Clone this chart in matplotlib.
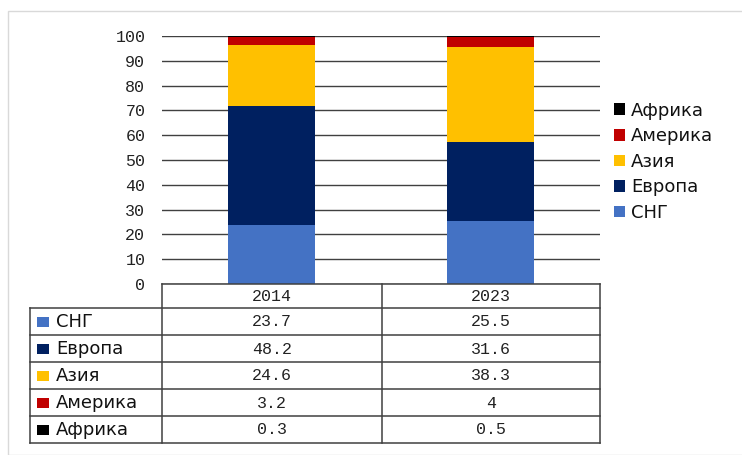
import matplotlib
matplotlib.use("Agg")
import matplotlib.pyplot as plt
from matplotlib.patches import Rectangle, Patch

# data
years = ["2014", "2023"]
regions = ["СНГ", "Европа", "Азия", "Америка", "Африка"]
sng = [23.7, 25.5]
europe = [48.2, 31.6]
asia = [24.6, 38.3]
america = [3.2, 4]
africa = [0.3, 0.5]
series = [sng, europe, asia, america, africa]
value_text = [["23.7", "25.5"], ["48.2", "31.6"], ["24.6", "38.3"],
              ["3.2", "4"], ["0.3", "0.5"]]
colors = ["#4472C4", "#002060", "#FFC000", "#C00000", "#000000"]
yticks = list(range(0, 101, 10))

W, H = 742, 455
fig = plt.figure(figsize=(W / 100, H / 100), dpi=100)

def fx(px):
    return px / W

def fy(py):
    return 1 - py / H

# light frame around the chart
fig.patches.append(Rectangle((fx(8), 0), 1, fy(11), transform=fig.transFigure,
                             fill=False, edgecolor="#d9d9d9", linewidth=1))

mono = "Liberation Mono"
sans = "DejaVu Sans"
gridc = "#404040"
numsize = 12
labsize = 13

# bar chart
ax = fig.add_axes([fx(162), fy(284), fx(600) - fx(162), fy(36) - fy(284)])
x = list(range(len(years)))
bottom = [0.0] * len(years)
for vals, col, name in zip(series, colors, regions):
    ax.bar(x, vals, 0.4, bottom=bottom, color=col, label=name, zorder=2)
    bottom = [b + v for b, v in zip(bottom, vals)]
ax.set_xlim(-0.5, 1.5)
ax.set_ylim(0, 100)
ax.set_yticks(yticks)
ax.set_yticklabels([str(t) for t in yticks], fontfamily=mono, fontsize=numsize, color="#222222")
ax.set_xticks([])
ax.tick_params(axis="y", length=0, pad=12)
for sp in ax.spines.values():
    sp.set_visible(False)
ax.grid(axis="y", color=gridc, linewidth=1.0, zorder=0)
ax.set_axisbelow(True)

handles = [Patch(facecolor=c, edgecolor="none") for c in colors]
leg = ax.legend(handles[::-1], regions[::-1], loc="center left",
                bbox_to_anchor=(1.011, 0.493), frameon=False, borderpad=0,
                handlelength=0.6, handleheight=0.6, handletextpad=0.35,
                labelspacing=0.42, prop={"family": sans, "size": labsize})
for t in leg.get_texts():
    t.set_color("#111111")

# data table under the chart
tab = fig.add_axes([fx(30), fy(443), fx(600) - fx(30), fy(284) - fy(443)])
tab.set_xlim(30, 600)
tab.set_ylim(443, 284)
tab.axis("off")
row_edges = [284, 308, 335, 362, 389, 416, 443]
col_edges = [30, 162, 382, 600]
lw = 1.1
# header (only over data columns)
tab.plot([162, 600], [284, 284], color=gridc, lw=lw, clip_on=False)
for r in row_edges[1:]:
    tab.plot([30, 600], [r, r], color=gridc, lw=lw, clip_on=False)
tab.plot([30, 30], [308, 443], color=gridc, lw=lw, clip_on=False)
for c in col_edges[1:]:
    tab.plot([c, c], [284, 443], color=gridc, lw=lw, clip_on=False)

col_centers = [(col_edges[i] + col_edges[i + 1]) / 2 for i in (1, 2)]
for cx, yr in zip(col_centers, years):
    tab.text(cx, 296.5, yr, ha="center", va="center", fontfamily=mono,
             fontsize=numsize, color="#222222")
for i, name in enumerate(regions):
    yc = (row_edges[i + 1] + row_edges[i + 2]) / 2
    tab.add_patch(Rectangle((37, yc - 5), 12, 10, facecolor=colors[i],
                            edgecolor="none"))
    tab.text(56, yc + 0.5, name, ha="left", va="center", fontfamily=sans,
             fontsize=labsize, color="#111111")
    for cx, txt in zip(col_centers, value_text[i]):
        tab.text(cx, yc + 0.5, txt, ha="center", va="center", fontfamily=mono,
                 fontsize=numsize, color="#222222")

fig.savefig("out.png", dpi=100)
